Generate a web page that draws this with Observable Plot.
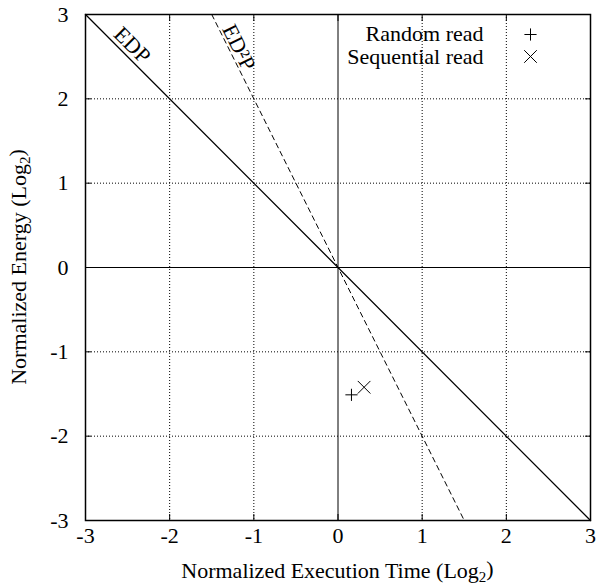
<!DOCTYPE html>
<html>
<head>
<meta charset="utf-8">
<script src="https://cdn.jsdelivr.net/npm/d3@7"></script>
<script src="https://cdn.jsdelivr.net/npm/@observablehq/plot@0.6"></script>
<style>
  html, body { margin: 0; padding: 0; background: #fff; }
  #chart svg { display: block; }
</style>
</head>
<body>
<div id="chart"></div>
<script>
// ---- data ----
const xTicks = [-3, -2, -1, 0, 1, 2, 3];
const yTicks = [-3, -2, -1, 0, 1, 2, 3];
const gridTicks = [-2, -1, 1, 2];
const seriesNames = ["Random read", "Sequential read"];
const execTime = [0.16, 0.31];      // normalized execution time (log2)
const energy = [-1.51, -1.42];      // normalized energy (log2)
const seriesSymbols = ["plus", "times"];
const edpTime = [-3, 3];            // EDP iso-line: energy = -time
const ed2pTime = [-1.5, 1.5];       // ED^2P iso-line: energy = -2*time
const lineLabels = ["EDP", "ED\u00B2P"];
const lineLabelTime = [-2.54, -1.28];
const lineSlopes = [-1, -2];

const points = seriesNames.map((s, i) => ({name: s, x: execTime[i], y: energy[i], symbol: seriesSymbols[i]}));
const edp = edpTime.map(t => ({x: t, y: -t}));
const ed2p = ed2pTime.map(t => ({x: t, y: -2 * t}));
const labels = lineLabels.map((l, i) => ({text: l, x: lineLabelTime[i], y: lineSlopes[i] * lineLabelTime[i]}));

const font = "'Liberation Serif', 'Times New Roman', Times, serif";
const FS = 22;

const chart = Plot.plot({
  width: 598,
  height: 586,
  marginLeft: 85,
  marginRight: 8,
  marginTop: 14,
  marginBottom: 66,
  style: {fontFamily: font, fontSize: FS + "px", color: "black", background: "white"},
  x: {domain: [-3, 3]},
  y: {domain: [-3, 3]},
  marks: [
    Plot.gridX(gridTicks, {stroke: "black", strokeOpacity: 1, strokeWidth: 1, strokeDasharray: "1,2"}),
    Plot.gridY(gridTicks, {stroke: "black", strokeOpacity: 1, strokeWidth: 1, strokeDasharray: "1,2"}),
    Plot.ruleX([0], {stroke: "black", strokeWidth: 1}),
    Plot.ruleY([0], {stroke: "black", strokeWidth: 1}),
    // inward tick marks on all four sides
    Plot.axisX(xTicks, {anchor: "bottom", tickSize: -6, tickFormat: () => "", label: null}),
    Plot.axisX(xTicks, {anchor: "top", tickSize: -6, tickFormat: () => "", label: null}),
    Plot.axisY(yTicks, {anchor: "left", tickSize: -6, tickFormat: () => "", label: null}),
    Plot.axisY(yTicks, {anchor: "right", tickSize: -6, tickFormat: () => "", label: null}),
    // tick labels
    Plot.axisX(xTicks, {anchor: "bottom", tickSize: 0, tickPadding: 7, tickFormat: d => String(d), label: null}),
    Plot.axisY(yTicks, {anchor: "left", tickSize: 0, tickPadding: 17, tickFormat: d => String(d), label: null}),
    // iso-lines
    Plot.line(edp, {x: "x", y: "y", stroke: "black", strokeWidth: 1.3}),
    Plot.line(ed2p, {x: "x", y: "y", stroke: "black", strokeWidth: 1, strokeDasharray: "5,4"}),
    Plot.text([labels[0]], {x: "x", y: "y", text: "text", rotate: 45, dx: 8, dy: -8, fontSize: FS, fill: "black"}),
    Plot.text([labels[1]], {x: "x", y: "y", text: "text", rotate: 63.5, dx: 8.5, dy: -4.2, fontSize: FS, fill: "black"}),
    // data points
    Plot.dot([points[0]], {x: "x", y: "y", symbol: "plus", r: 4, stroke: "black", strokeWidth: 1}),
    Plot.dot([points[1]], {x: "x", y: "y", symbol: "times", r: 5.8, stroke: "black", strokeWidth: 1}),
    // legend
    Plot.text([seriesNames[0]], {frameAnchor: "top-right", dx: -107, dy: 19.5, textAnchor: "end", lineAnchor: "middle", fill: "black"}),
    Plot.text([seriesNames[1]], {frameAnchor: "top-right", dx: -107, dy: 42.5, textAnchor: "end", lineAnchor: "middle", fill: "black"}),
    Plot.dot([seriesNames[0]], {frameAnchor: "top-right", dx: -60, dy: 20, symbol: "plus", r: 4, stroke: "black", strokeWidth: 1}),
    Plot.dot([seriesNames[1]], {frameAnchor: "top-right", dx: -60, dy: 42, symbol: "times", r: 5.8, stroke: "black", strokeWidth: 1}),
    Plot.frame({stroke: "black", strokeWidth: 1.5})
  ]
});

document.getElementById("chart").appendChild(chart);

// axis titles with true subscripts
const svg = d3.select(chart);
const xt = svg.append("text")
  .attr("x", 85 + (598 - 85 - 8) / 2)
  .attr("y", 578)
  .attr("text-anchor", "middle")
  .attr("fill", "black")
  .style("font-family", font).style("font-size", FS + "px");
xt.append("tspan").text("Normalized Execution Time (Log");
xt.append("tspan").attr("dy", "0.25em").style("font-size", "15px").text("2");
xt.append("tspan").attr("dy", "-0.25em").text(")");

const yt = svg.append("text")
  .attr("transform", `translate(26, ${14 + (586 - 14 - 66) / 2}) rotate(-90)`)
  .attr("text-anchor", "middle")
  .attr("fill", "black")
  .style("font-family", font).style("font-size", FS + "px");
yt.append("tspan").text("Normalized Energy (Log");
yt.append("tspan").attr("dy", "0.25em").style("font-size", "15px").text("2");
yt.append("tspan").attr("dy", "-0.25em").text(")");
</script>
</body>
</html>
